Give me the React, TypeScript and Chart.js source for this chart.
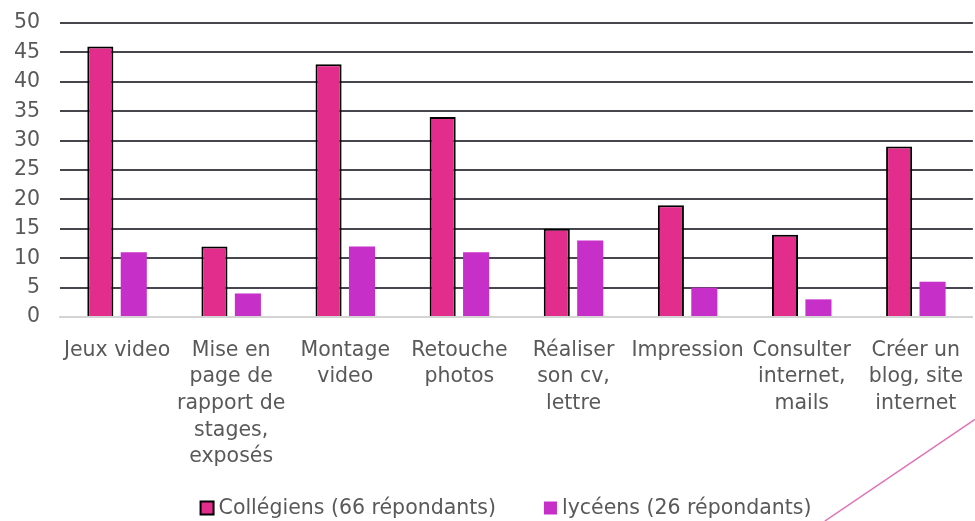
import React, { useEffect, useRef } from "react";
import { Chart, registerables } from "chart.js";

Chart.register(...registerables);

const categories: string[][] = [
  ["Jeux video"],
  ["Mise en", "page de", "rapport de", "stages,", "exposés"],
  ["Montage", "video"],
  ["Retouche", "photos"],
  ["Réaliser", "son cv,", "lettre"],
  ["Impression"],
  ["Consulter", "internet,", "mails"],
  ["Créer un", "blog, site", "internet"],
];
const collegiens = [46, 12, 43, 34, 15, 19, 14, 29];
const lyceens = [11, 4, 12, 11, 13, 5, 3, 6];
const seriesNames = ["Collégiens (66 répondants)", "lycéens (26 répondants)"];
const yTicks = { min: 0, max: 50, step: 5 };

const FONT = "'DejaVu Sans'";
const TEXT = "#595959";
const PINK = "#E32D8C";
const MAGENTA = "#C62FC8";

const legendPlugin = {
  id: "customLegend",
  afterDraw(chart: any) {
    const ctx = chart.ctx;
    ctx.save();
    ctx.font = `20.5px ${FONT}`;
    ctx.textBaseline = "middle";
    const box = 13;
    const gapText = 5;
    const gapItem = 48;
    const colors = [PINK, MAGENTA];
    const widths = seriesNames.map((n) => ctx.measureText(n).width);
    const total = widths.reduce((a, w) => a + box + gapText + w, 0) + gapItem;
    let x = chart.width * 0.519 - total / 2;
    const y = 508;
    seriesNames.forEach((name, i) => {
      ctx.fillStyle = colors[i];
      ctx.fillRect(x, y - box / 2, box, box);
      if (i === 0) {
        ctx.strokeStyle = "#000";
        ctx.lineWidth = 2;
        ctx.strokeRect(x, y - box / 2, box, box);
      }
      x += box + gapText;
      ctx.fillStyle = TEXT;
      ctx.textAlign = "left";
      ctx.fillText(name, x, y + 1);
      x += widths[i] + gapItem;
    });
    // decorative diagonal line
    ctx.strokeStyle = "#E070B4";
    ctx.lineWidth = 1.5;
    ctx.beginPath();
    ctx.moveTo(chart.width * 0.846, chart.height);
    ctx.lineTo(chart.width, chart.height * 0.805);
    ctx.stroke();
    ctx.restore();
  },
};

export default function App() {
  const ref = useRef<HTMLCanvasElement>(null);
  useEffect(() => {
    document.body.style.margin = "0";
    const chart = new Chart(ref.current!, {
      type: "bar",
      data: {
        labels: categories,
        datasets: [
          {
            label: seriesNames[0],
            data: collegiens,
            backgroundColor: PINK,
            borderColor: "#000",
            borderWidth: 2,
            borderSkipped: "bottom",
            categoryPercentage: 0.586,
            barPercentage: 0.78,
          },
          {
            label: seriesNames[1],
            data: lyceens,
            backgroundColor: MAGENTA,
            borderWidth: 0,
            categoryPercentage: 0.586,
            barPercentage: 0.78,
          },
        ],
      },
      options: {
        animation: false,
        responsive: false,
        layout: { padding: { top: 0, left: 0, right: 0, bottom: 0 } },
        plugins: { legend: { display: false }, tooltip: { enabled: false } },
        scales: {
          x: {
            grid: { display: false },
            border: { display: true, color: "#d4d4d4", width: 2 },
            ticks: {
              color: TEXT,
              font: { family: FONT, size: 20.5, lineHeight: 1.3 },
              autoSkip: false,
              maxRotation: 0,
              minRotation: 0,
              padding: 12,
            },
            afterFit(scale: any) {
              scale.height = 204;
            },
          },
          y: {
            min: yTicks.min,
            max: yTicks.max,
            ticks: {
              stepSize: yTicks.step,
              autoSkip: false,
              color: TEXT,
              font: { family: FONT, size: 20.5, lineHeight: 1 },
              padding: 20,
            },
            grid: {
              color: (c: any) => (c.tick && c.tick.value === 0 ? "rgba(0,0,0,0)" : "#46464f"),
              lineWidth: 2,
              drawTicks: false,
            },
            border: { display: false },
            afterFit(scale: any) {
              scale.width = 60;
              scale.paddingTop = 23;
            },
          },
        },
      },
      plugins: [legendPlugin],
    });
    return () => chart.destroy();
  }, []);
  return (
    <div style={{ position: "absolute", left: 0, top: 0, width: 975, height: 521, background: "#fff" }}>
      <canvas ref={ref} width={975} height={521} style={{ display: "block" }} />
    </div>
  );
}
